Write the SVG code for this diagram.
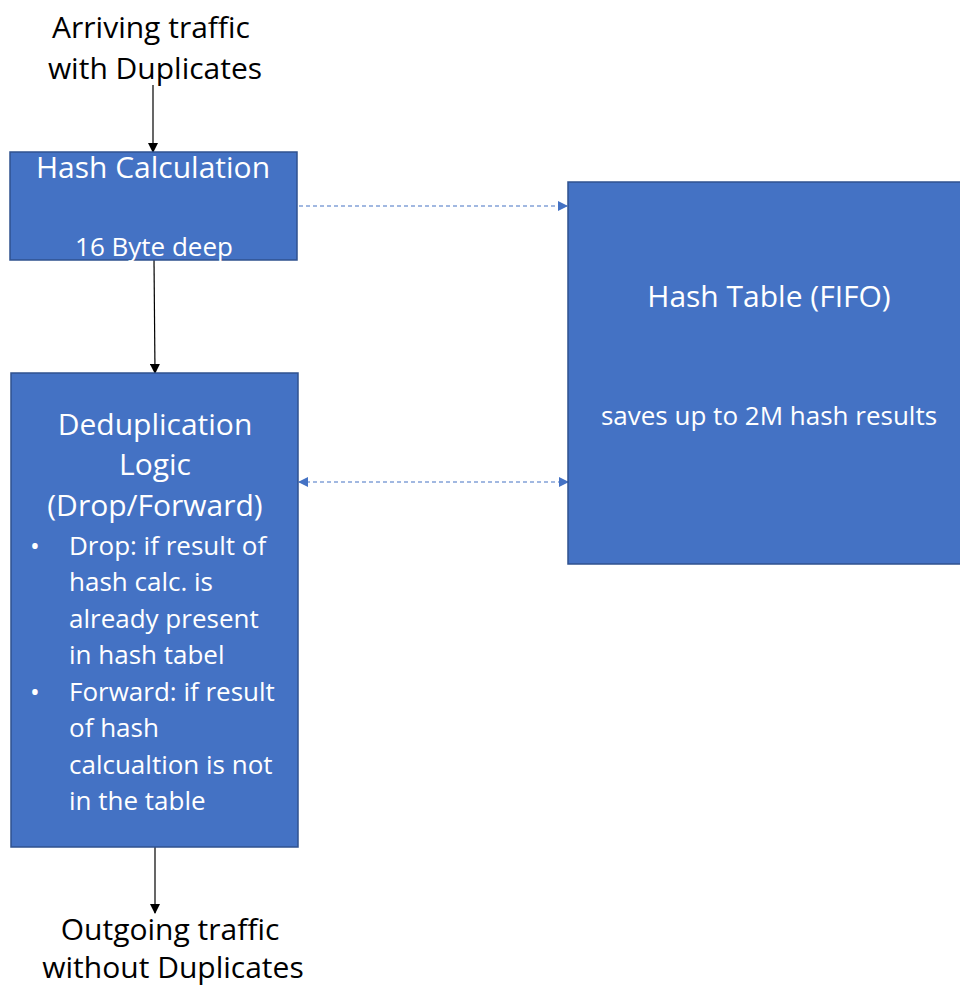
<svg xmlns="http://www.w3.org/2000/svg" width="960" height="988" viewBox="0 0 960 988">
<style>
.box{fill:#4472C4;stroke:#2F528F;stroke-width:1.5}
.t{font-family:"Open Sans","Liberation Sans",sans-serif;fill:#fff}
.k{font-family:"Open Sans","Liberation Sans",sans-serif;fill:#000}
.solid{stroke:#000;stroke-width:1.2;fill:none}
.dash{stroke:#4472C4;stroke-width:1.2;stroke-dasharray:4 3;fill:none}
</style>
<defs>
<marker id="ab" markerWidth="10" markerHeight="10" refX="9" refY="5" orient="auto" markerUnits="userSpaceOnUse"><path d="M0,0 L10,5 L0,10 z" fill="#000"/></marker>
<marker id="au" markerWidth="10" markerHeight="10" refX="9" refY="5" orient="auto-start-reverse" markerUnits="userSpaceOnUse"><path d="M0,0 L10,5 L0,10 z" fill="#4472C4"/></marker>
</defs>
<rect width="960" height="988" fill="#fff"/>
<g id="connectors">
<line class="solid" x1="153" y1="85" x2="153" y2="152" marker-end="url(#ab)"/>
<line class="solid" x1="154" y1="260" x2="155" y2="373" marker-end="url(#ab)"/>
<line class="solid" x1="155" y1="847" x2="155" y2="913" marker-end="url(#ab)"/>
<line class="dash" x1="299" y1="206" x2="567" y2="206" marker-end="url(#au)"/>
<line class="dash" x1="299" y1="482" x2="568" y2="482" marker-start="url(#au)" marker-end="url(#au)"/>
</g>
<g id="input-label">
<text class="k" font-size="30" text-anchor="middle" x="151" y="38">Arriving traffic</text>
<text class="k" font-size="30" text-anchor="middle" x="155" y="79">with Duplicates</text>
</g>
<g id="hash-calc">
<rect class="box" x="10" y="152" width="287" height="108"/>
<text class="t" font-size="30" text-anchor="middle" x="153" y="178">Hash Calculation</text>
<text class="t" font-size="26" text-anchor="middle" x="154" y="256">16 Byte deep</text>
</g>
<g id="hash-table">
<rect class="box" x="568" y="182" width="400" height="382"/>
<text class="t" font-size="30" text-anchor="middle" x="769" y="307">Hash Table (FIFO)</text>
<text class="t" font-size="26" text-anchor="middle" x="769" y="425">saves up to 2M hash results</text>
</g>
<g id="dedup">
<rect class="box" x="11" y="373" width="287" height="474"/>
<text class="t" font-size="30" text-anchor="middle" x="155" y="435">Deduplication</text>
<text class="t" font-size="30" text-anchor="middle" x="155" y="475">Logic</text>
<text class="t" font-size="30" text-anchor="middle" x="155" y="516">(Drop/Forward)</text>
<g font-size="26">
<text class="t" x="30" y="555">•</text>
<text class="t" x="69" y="555">Drop: if result of</text>
<text class="t" x="69" y="591">hash calc. is</text>
<text class="t" x="69" y="628">already present</text>
<text class="t" x="69" y="664">in hash tabel</text>
<text class="t" x="30" y="701">•</text>
<text class="t" x="69" y="701">Forward: if result</text>
<text class="t" x="69" y="737">of hash</text>
<text class="t" x="69" y="774">calcualtion is not</text>
<text class="t" x="69" y="810">in the table</text>
</g>
</g>
<g id="output-label">
<text class="k" font-size="30" text-anchor="middle" x="170" y="940">Outgoing traffic</text>
<text class="k" font-size="30" text-anchor="middle" x="173" y="978">without Duplicates</text>
</g>
</svg>
